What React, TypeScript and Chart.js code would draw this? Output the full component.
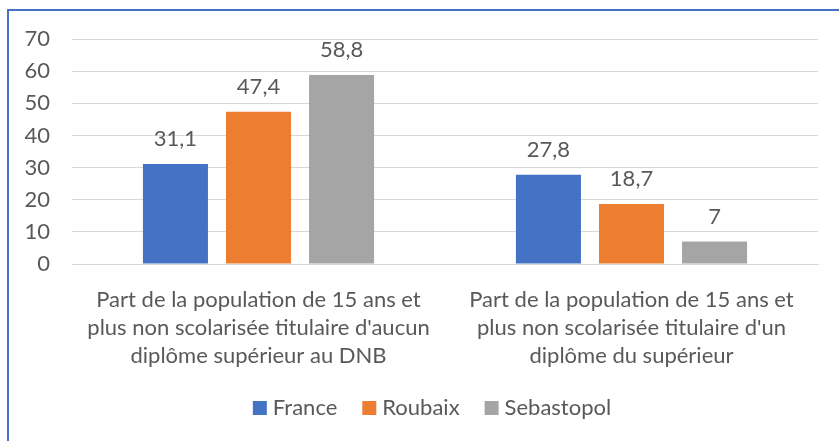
import React, { useEffect, useRef } from "react";
import { Chart, registerables } from "chart.js";

Chart.register(...registerables);

const categories: string[][] = [
  ["Part de la population de 15 ans et", "plus non scolarisée titulaire d'aucun", "diplôme supérieur au DNB"],
  ["Part de la population de 15 ans et", "plus non scolarisée titulaire d'un", "diplôme du supérieur"],
];
const seriesNames = ["France", "Roubaix", "Sebastopol"];
const franceValues = [31.1, 27.8];
const roubaixValues = [47.4, 18.7];
const sebastopolValues = [58.8, 7];
const seriesColors = ["#4472C4", "#ED7D31", "#A5A5A5"];
const yMax = 70;
const yStep = 10;

const FONT = "Lato, Carlito, Calibri, 'Liberation Sans', sans-serif";
const TEXT = "#595959";

const valueLabels = {
  id: "valueLabels",
  afterDatasetsDraw(chart: any) {
    const ctx = chart.ctx;
    ctx.save();
    ctx.font = `22px ${FONT}`;
    ctx.fillStyle = TEXT;
    ctx.textAlign = "center";
    ctx.textBaseline = "alphabetic";
    chart.data.datasets.forEach((ds: any, i: number) => {
      const meta = chart.getDatasetMeta(i);
      meta.data.forEach((bar: any, j: number) => {
        const v = ds.data[j];
        ctx.fillText(String(v).replace(".", ","), bar.x, bar.y - 18);
      });
    });
    ctx.restore();
  },
};

const customLegend = {
  id: "customLegend",
  afterDraw(chart: any) {
    const ctx = chart.ctx;
    ctx.save();
    ctx.font = `22px ${FONT}`;
    const box = 14;
    const gap = 6;
    const spacing = 25;
    const items = chart.data.datasets.map((ds: any) => ({
      label: ds.label,
      color: ds.backgroundColor,
      w: box + gap + ctx.measureText(ds.label).width,
    }));
    const total = items.reduce((a: number, it: any) => a + it.w, 0) + spacing * (items.length - 1);
    let x = 432 - total / 2;
    const cy = 408;
    items.forEach((it: any) => {
      ctx.fillStyle = it.color;
      ctx.fillRect(x, cy - box / 2, box, box);
      ctx.fillStyle = TEXT;
      ctx.textAlign = "left";
      ctx.textBaseline = "middle";
      ctx.fillText(it.label, x + box + gap, cy);
      x += it.w + spacing;
    });
    ctx.restore();
  },
};

export default function App() {
  const ref = useRef<HTMLCanvasElement | null>(null);
  useEffect(() => {
    if (!ref.current) return;
    const values = [franceValues, roubaixValues, sebastopolValues];
    const chart = new Chart(ref.current, {
      type: "bar",
      data: {
        labels: categories,
        datasets: seriesNames.map((n, i) => ({
          label: n,
          data: values[i],
          backgroundColor: seriesColors[i],
          barPercentage: 0.783,
          categoryPercentage: 0.668,
        })),
      },
      options: {
        animation: false,
        responsive: false,
        maintainAspectRatio: false,
        layout: { padding: { top: 39, right: 21, bottom: 0, left: 0 } },
        plugins: {
          tooltip: { enabled: false },
          legend: { display: false },
        },
        scales: {
          x: {
            afterFit: (s: any) => {
              s.height = 177;
            },
            grid: { display: false },
            border: { color: "#D9D9D9", width: 1 },
            ticks: {
              color: TEXT,
              font: { family: FONT, size: 22, lineHeight: 1.27 },
              maxRotation: 0,
              autoSkip: false,
              padding: 14,
            },
          },
          y: {
            min: 0,
            max: yMax,
            afterFit: (s: any) => {
              s.width = 72;
            },
            grid: { color: "#D9D9D9", lineWidth: 1, drawTicks: false },
            border: { display: false },
            ticks: {
              stepSize: yStep,
              color: TEXT,
              font: { family: FONT, size: 22 },
              padding: 22,
            },
          },
        },
      },
      plugins: [valueLabels, customLegend],
    } as any);
    return () => chart.destroy();
  }, []);
  return (
    <div>
      <div
        style={{
          position: "fixed",
          left: 7,
          top: 9,
          width: 900,
          height: 500,
          borderTop: "2px solid #4472C4",
          borderLeft: "2px solid #4472C4",
          boxSizing: "border-box",
        }}
      />
      <canvas
        ref={ref}
        width={839}
        height={441}
        style={{ position: "fixed", left: 0, top: 0, width: 839, height: 441 }}
      />
    </div>
  );
}
